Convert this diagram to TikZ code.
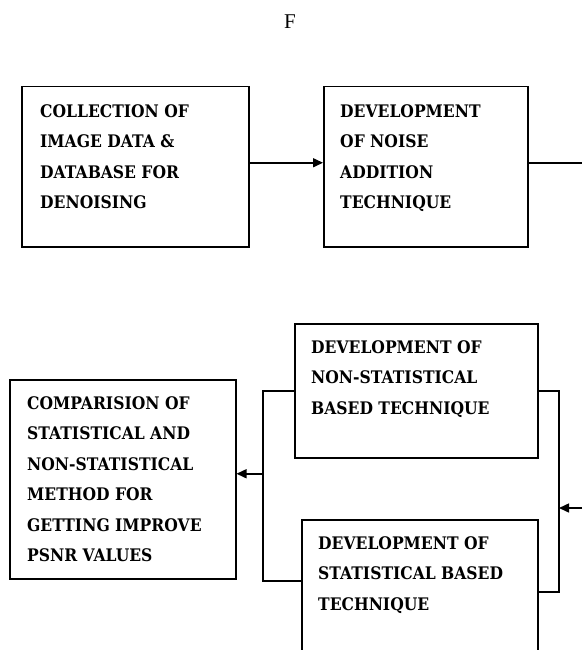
\documentclass[tikz,border=0pt]{standalone}
\usepackage{fontspec}
\setmainfont{Liberation Serif}
\newfontfamily\boxfont[FakeStretch=0.9]{DejaVu Serif}
\usetikzlibrary{arrows.meta,calc}
\begin{document}
\begin{tikzpicture}[x=1pt,y=-1pt,
  box/.style={draw, line width=1.5pt, anchor=north west, inner sep=0pt},
  txt/.style={anchor=north west, inner sep=0pt, align=left, font=\boxfont\bfseries\fontsize{17.3}{30.5}\selectfont},
  conn/.style={line width=1.5pt},
  arr/.style={conn, -{Triangle[length=10pt,width=9pt]}}]
\clip (0,0) rectangle (582,650);
\fill[white] (0,0) rectangle (582,650);

\node[font=\fontsize{21}{25}\selectfont] (title) at (290,22) {F};

\node[box, minimum width=227pt, minimum height=160pt] (b1) at (21,86) {};
\node[box, minimum width=204pt, minimum height=160pt] (b2) at (323,86) {};
\node[box, minimum width=243pt, minimum height=134pt] (b3) at (294,323) {};
\node[box, minimum width=226pt, minimum height=199pt] (b4) at (9,379) {};
\node[box, minimum width=236pt, minimum height=144pt] (b5) at (301,519) {};

\node[txt] (t1) at ([shift={(19,18)}]b1.north west) {COLLECTION OF\\IMAGE DATA \&\\DATABASE FOR\\DENOISING};
\node[txt] (t2) at ([shift={(17,18)}]b2.north west) {DEVELOPMENT\\OF NOISE\\ADDITION\\TECHNIQUE};
\node[txt] (t3) at ([shift={(17,17)}]b3.north west) {DEVELOPMENT OF\\NON-STATISTICAL\\BASED TECHNIQUE};
\node[txt] (t4) at ([shift={(18,17)}]b4.north west) {COMPARISION OF\\STATISTICAL AND\\NON-STATISTICAL\\METHOD FOR\\GETTING IMPROVE\\PSNR VALUES};
\node[txt] (t5) at ([shift={(17,17)}]b5.north west) {DEVELOPMENT OF\\STATISTICAL BASED\\TECHNIQUE};

\coordinate (edge) at (582,0);

% top flow
\draw[arr] ([yshift=4pt]b1.east) -- ([yshift=4pt]b2.west);
\coordinate (b2e) at ([yshift=4pt]b2.east);
\coordinate (e1) at (b2e -| edge);
\draw[conn] (b2e) -- (e1);

% right spine
\coordinate (jr) at (559,0);
\draw[conn] (b3.east) -| (jr |- b5.east) -- (b5.east);
\coordinate (inR) at (582,508);
\draw[arr] (inR) -- (inR -| jr);

% left spine
\coordinate (jl) at (263,0);
\coordinate (b5w) at ([yshift=11pt]b5.west);
\draw[conn] (b3.west) -| (jl |- b5w) -- (b5w);
\coordinate (b4e) at ([yshift=5.5pt]b4.east);
\draw[arr] (jl |- b4e) -- (b4e);
\end{tikzpicture}
\end{document}
